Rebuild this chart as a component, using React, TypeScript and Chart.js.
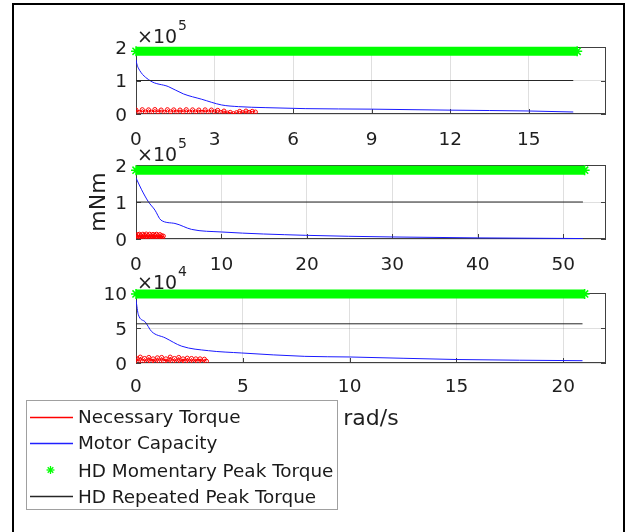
import React, { useEffect, useRef } from "react";
import { Chart, registerables } from "chart.js";
Chart.register(...registerables);

const FONT = "'DejaVu Sans', 'Liberation Sans', Arial, sans-serif";

// ---------- Subplot 1 ----------
const speed1 = [0, 0.03, 0.09, 0.53, 1.23, 1.81, 2.51, 3.27, 3.91, 4.93, 6.46, 9, 12, 15, 16.7];
const capacity1 = [162000, 150000, 137000, 100000, 82000, 60000, 44000, 27000, 22000, 19000, 16000, 14500, 11500, 9000, 6000];
const necSpeed1 = [0, 0.12, 0.24, 0.36, 0.48, 0.6, 0.72, 0.84, 0.96, 1.08, 1.2, 1.32, 1.44, 1.56, 1.68, 1.8, 1.92, 2.04, 2.16, 2.28, 2.4, 2.52, 2.64, 2.76, 2.88, 3.0, 3.12, 3.24, 3.36, 3.48, 3.6, 3.72, 3.84, 3.96, 4.08, 4.2, 4.32, 4.44, 4.56];
const necTorque1 = [12000, 5000, 13000, 6000, 12500, 5500, 13500, 6000, 12000, 5000, 13000, 6500, 12500, 5500, 12000, 6000, 13000, 5500, 12500, 6000, 12000, 5000, 12500, 5500, 12000, 6000, 11000, 5000, 9000, 3000, 5000, 1000, 4000, 8000, 4000, 9000, 5000, 8000, 6000];
const momentaryPeak1 = 187000;
const momentaryEnd1 = 16.85;
const repeatedPeak1 = 100000;
const repeatedEnd1 = 16.7;
const xTicks1 = [0, 3, 6, 9, 12, 15];
const yTicks1 = [0, 100000, 200000];

// ---------- Subplot 2 ----------
const speed2 = [0, 0.66, 1.44, 2.22, 2.92, 4.56, 6.5, 10, 19.8, 30, 40, 52.3];
const capacity2 = [165000, 133000, 101000, 78000, 51000, 42000, 26000, 19000, 10000, 5500, 3000, 1200];
const necSpeed2 = [0, 0.1, 0.2, 0.3, 0.4, 0.5, 0.6, 0.7, 0.8, 0.9, 1.0, 1.1, 1.2, 1.3, 1.4, 1.5, 1.6, 1.7, 1.8, 1.9, 2.0, 2.1, 2.2, 2.3, 2.4, 2.5, 2.6, 2.7, 2.8, 2.9, 3.0, 3.1, 3.2];
const necTorque2 = [9000, 3000, 12000, 4000, 13000, 3000, 9000, 4000, 13000, 3000, 10000, 3500, 13500, 4000, 9500, 3000, 13000, 3500, 9000, 4000, 12500, 3000, 10000, 4000, 13000, 3500, 9000, 3000, 12000, 4000, 9000, 3000, 8000];
const momentaryPeak2 = 186000;
const momentaryEnd2 = 52.5;
const repeatedPeak2 = 100000;
const repeatedEnd2 = 52.3;
const xTicks2 = [0, 10, 20, 30, 40, 50];
const yTicks2 = [0, 100000, 200000];

// ---------- Subplot 3 ----------
const speed3 = [0, 0.11, 0.42, 0.73, 1.36, 2.14, 3.39, 4.95, 7.9, 10, 15, 20.9];
const capacity3 = [90000, 69000, 59000, 45000, 36000, 24000, 17600, 14300, 9500, 8600, 5000, 3300];
const necSpeed3 = [0, 0.1, 0.2, 0.3, 0.4, 0.5, 0.6, 0.7, 0.8, 0.9, 1.0, 1.1, 1.2, 1.3, 1.4, 1.5, 1.6, 1.7, 1.8, 1.9, 2.0, 2.1, 2.2, 2.3, 2.4, 2.5, 2.6, 2.7, 2.8, 2.9, 3.0, 3.1, 3.2, 3.3];
const necTorque3 = [7000, 2000, 8500, 2500, 6500, 1500, 8000, 2000, 6000, 1500, 7500, 2000, 8000, 2500, 6000, 1500, 8500, 2000, 6500, 1500, 8000, 1500, 6000, 2000, 7000, 1500, 6500, 1500, 6000, 2000, 6000, 1500, 5500, 2500];
const momentaryPeak3 = 98700;
const momentaryEnd3 = 21.0;
const repeatedPeak3 = 56000;
const repeatedEnd3 = 20.9;
const xTicks3 = [0, 5, 10, 15, 20];
const yTicks3 = [0, 50000, 100000];

const legendLabels = ["Necessary Torque", "Motor Capacity", "HD Momentary Peak Torque", "HD Repeated Peak Torque"];

const pts = (xs: number[], ys: number[]) => xs.map((x, i) => ({ x, y: ys[i] }));

const matlabBox = {
  id: "matlabBox",
  beforeDatasetsDraw(chart: any) {
    const { ctx, chartArea: a, scales } = chart;
    ctx.save();
    ctx.strokeStyle = "#404040";
    ctx.lineWidth = 1;
    ctx.strokeRect(a.left + 0.5, a.top + 0.5, a.right - a.left - 1, a.bottom - a.top - 1);
    const L = 5;
    ctx.beginPath();
    scales.x.ticks.forEach((t: any) => {
      const px = Math.round(scales.x.getPixelForValue(t.value)) + 0.5;
      ctx.moveTo(px, a.bottom);
      ctx.lineTo(px, a.bottom - L);
      ctx.moveTo(px, a.top);
      ctx.lineTo(px, a.top + L);
    });
    scales.y.ticks.forEach((t: any) => {
      const py = Math.round(scales.y.getPixelForValue(t.value)) + 0.5;
      ctx.moveTo(a.left, py);
      ctx.lineTo(a.left + L, py);
      ctx.moveTo(a.right, py);
      ctx.lineTo(a.right - L, py);
    });
    ctx.stroke();
    ctx.restore();
  },
};

type Sub = {
  speed: number[];
  capacity: number[];
  necSpeed: number[];
  necTorque: number[];
  momentary: number;
  momentaryEnd: number;
  repeated: number;
  repeatedEnd: number;
  xMax: number;
  yMax: number;
  xTicks: number[];
  yTicks: number[];
  yDiv: number;
  xPad: number;
};

function makeConfig(s: Sub): any {
  return {
    type: "line",
    data: {
      datasets: [
        {
          label: legendLabels[2],
          data: [{ x: 0, y: s.momentary }, { x: s.momentaryEnd, y: s.momentary }],
          borderColor: "#00ff00",
          backgroundColor: "#00ff00",
          borderWidth: 9,
          pointStyle: "star",
          pointRadius: 5,
          pointBorderColor: "#00ff00",
          pointBorderWidth: 1.5,
          clip: false,
        },
        {
          label: legendLabels[3],
          data: [{ x: 0, y: s.repeated }, { x: s.repeatedEnd, y: s.repeated }],
          borderColor: "#262626",
          borderWidth: 1,
          pointRadius: 0,
        },
        {
          label: legendLabels[1],
          data: pts(s.speed, s.capacity),
          borderColor: "#1a1aff",
          borderWidth: 1,
          pointRadius: 0,
          cubicInterpolationMode: "monotone",
        },
        {
          label: legendLabels[0],
          data: pts(s.necSpeed, s.necTorque),
          borderColor: "#ff0000",
          borderWidth: 1,
          pointRadius: 2,
          pointStyle: "circle",
          pointBorderColor: "#ff0000",
          pointBackgroundColor: "rgba(255,255,255,0)",
          pointBorderWidth: 1,
        },
      ],
    },
    options: {
      animation: false,
      responsive: false,
      events: [],
      layout: { padding: { top: 30, right: 21, bottom: 0, left: 0 } },
      plugins: { legend: { display: false }, tooltip: { enabled: false } },
      scales: {
        x: {
          type: "linear",
          min: 0,
          max: s.xMax,
          afterBuildTicks: (sc: any) => {
            sc.ticks = s.xTicks.map((v) => ({ value: v }));
          },
          afterFit: (sc: any) => {
            sc.height = 40;
          },
          ticks: {
            font: { family: FONT, size: 18.5 },
            color: "#1f1f1f",
            padding: s.xPad,
            maxRotation: 0,
            autoSkip: false,
            callback: (v: any) => String(v),
          },
          grid: { color: "rgba(38,38,38,0.15)", drawTicks: false, lineWidth: 1 },
          border: { display: false },
        },
        y: {
          type: "linear",
          min: 0,
          max: s.yMax,
          afterBuildTicks: (sc: any) => {
            sc.ticks = s.yTicks.map((v) => ({ value: v }));
          },
          afterFit: (sc: any) => {
            sc.width = 136;
          },
          ticks: {
            font: { family: FONT, size: 18.5 },
            color: "#1f1f1f",
            padding: 9,
            labelOffset: 2,
            autoSkip: false,
            callback: (v: any) => String(Math.round(v / s.yDiv)),
          },
          grid: { color: "rgba(38,38,38,0.15)", drawTicks: false, lineWidth: 1 },
          border: { display: false },
        },
      },
    },
    plugins: [matlabBox],
  };
}

const subs: { top: number; h: number; sub: Sub; exp: string }[] = [
  {
    top: 47, h: 67, exp: "5",
    sub: { speed: speed1, capacity: capacity1, necSpeed: necSpeed1, necTorque: necTorque1, momentary: momentaryPeak1, momentaryEnd: momentaryEnd1, repeated: repeatedPeak1, repeatedEnd: repeatedEnd1, xMax: 17.95, yMax: 200000, xTicks: xTicks1, yTicks: yTicks1, yDiv: 100000, xPad: 15 },
  },
  {
    top: 165, h: 74, exp: "5",
    sub: { speed: speed2, capacity: capacity2, necSpeed: necSpeed2, necTorque: necTorque2, momentary: momentaryPeak2, momentaryEnd: momentaryEnd2, repeated: repeatedPeak2, repeatedEnd: repeatedEnd2, xMax: 55, yMax: 200000, xTicks: xTicks2, yTicks: yTicks2, yDiv: 100000, xPad: 15 },
  },
  {
    top: 293, h: 70, exp: "4",
    sub: { speed: speed3, capacity: capacity3, necSpeed: necSpeed3, necTorque: necTorque3, momentary: momentaryPeak3, momentaryEnd: momentaryEnd3, repeated: repeatedPeak3, repeatedEnd: repeatedEnd3, xMax: 22, yMax: 100000, xTicks: xTicks3, yTicks: yTicks3, yDiv: 10000, xPad: 13 },
  },
];

function SubChart({ top, h, sub }: { top: number; h: number; sub: Sub }) {
  const ref = useRef<HTMLCanvasElement>(null);
  useEffect(() => {
    const chart = new Chart(ref.current as HTMLCanvasElement, makeConfig(sub));
    return () => chart.destroy();
  }, []);
  const H = h + 70;
  return (
    <canvas
      ref={ref}
      width={627}
      height={H}
      style={{ position: "absolute", left: 0, top: top - 30, width: 627, height: H }}
    />
  );
}

export default function App() {
  const rowY = [416.7, 442.7, 470, 496];
  const lineColors = ["#ff0000", "#2020ff", "", "#262626"];
  return (
    <div style={{ position: "absolute", left: 0, top: 0, width: 627, height: 532, overflow: "hidden", background: "#fff" }}>
      <div style={{ position: "absolute", left: 12, top: 3, width: 609, height: 600, border: "2px solid #000", background: "#fff" }} />
      {subs.map((s, i) => (
        <SubChart key={i} top={s.top} h={s.h} sub={s.sub} />
      ))}
      <svg width={627} height={532} style={{ position: "absolute", left: 0, top: 0 }} fontFamily={FONT}>
        {subs.map((s, i) => (
          <g key={i} fill="#1f1f1f">
            <text x={137} y={s.top - 4} fontSize={19}>×10</text>
            <text x={178} y={s.top - 17} fontSize={14}>{s.exp}</text>
          </g>
        ))}
        <text transform="translate(105,202) rotate(-90)" textAnchor="middle" fontSize={22} fill="#1f1f1f">mNm</text>
        <text x={371} y={425} textAnchor="middle" fontSize={22} fill="#1f1f1f">rad/s</text>
        <rect x={26.5} y={400.5} width={311} height={109} fill="#fff" stroke="#a0a0a0" strokeWidth={1} />
        {legendLabels.map((lab, i) => (
          <g key={lab}>
            {i === 2 ? (
              <g stroke="#00ff00" strokeWidth={1.3}>
                <line x1={46.5} y1={rowY[i]} x2={54.5} y2={rowY[i]} />
                <line x1={50.5} y1={rowY[i] - 4} x2={50.5} y2={rowY[i] + 4} />
                <line x1={47.7} y1={rowY[i] - 2.8} x2={53.3} y2={rowY[i] + 2.8} />
                <line x1={47.7} y1={rowY[i] + 2.8} x2={53.3} y2={rowY[i] - 2.8} />
              </g>
            ) : (
              <rect x={30} y={Math.round(rowY[i]) - 0.25} width={43} height={1.5} fill={lineColors[i]} />
            )}
            <text x={78} y={rowY[i] + 6.5} fontSize={18.4} fill="#1a1a1a">{lab}</text>
          </g>
        ))}
      </svg>
    </div>
  );
}
